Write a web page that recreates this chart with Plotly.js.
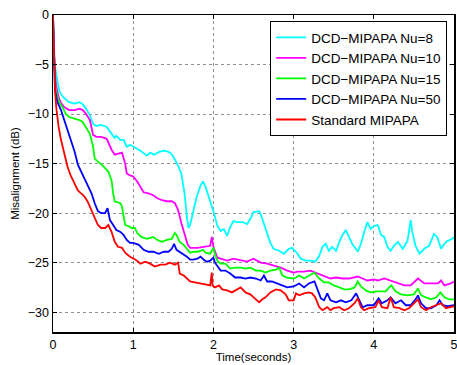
<!DOCTYPE html>
<html>
<head>
<meta charset="utf-8">
<script src="https://cdn.plot.ly/plotly-3.0.1.min.js"></script>
<style>html,body{margin:0;padding:0;background:#fff;}#chart{width:457px;height:365px;}</style>
</head>
<body>
<div id="chart"></div>
<script>
const seriesNames = ["DCD\u2212MIPAPA Nu=8","DCD\u2212MIPAPA Nu=10","DCD\u2212MIPAPA Nu=15","DCD\u2212MIPAPA Nu=50","Standard MIPAPA"];
const seriesColors = ["#00ffff","#ff00ff","#00ff00","#0000ff","#ff0000"];

const tCyan = [0,0.01,0.03,0.05,0.076,0.1,0.14,0.2,0.27,0.33,0.37,0.41,0.46,0.5,0.54,0.6,0.67,0.73,0.77,0.79,0.84,0.88,0.92,0.96,1.0,1.05,1.09,1.17,1.21,1.26,1.33,1.4,1.46,1.5,1.56,1.6,1.64,1.67,1.69,1.71,1.75,1.79,1.84,1.87,1.9,1.96,2.0,2.05,2.09,2.13,2.17,2.21,2.25,2.3,2.36,2.42,2.46,2.5,2.57,2.59,2.63,2.67,2.71,2.75,2.82,2.88,2.94,2.98,3.02,3.05,3.09,3.15,3.21,3.27,3.32,3.36,3.4,3.44,3.48,3.53,3.57,3.61,3.65,3.69,3.73,3.8,3.84,3.88,3.92,3.96,4.0,4.05,4.09,4.13,4.17,4.21,4.25,4.3,4.36,4.42,4.46,4.48,4.52,4.57,4.63,4.69,4.75,4.79,4.84,4.88,4.92,4.98,5.0];
const yCyan = [0,-3,-5.5,-6.6,-7.6,-8.0,-8.4,-8.8,-8.95,-8.8,-9.0,-9.45,-10.1,-11.0,-11.2,-11.1,-11.3,-12.0,-12.4,-12.2,-12.6,-12.6,-13.3,-13.1,-13.3,-13.5,-13.7,-14.2,-13.9,-14.1,-13.8,-13.7,-13.9,-14.3,-15.2,-16.0,-18.0,-20.4,-21.5,-21.2,-19.7,-18.4,-17.2,-16.8,-17.3,-18.7,-19.8,-21.3,-21.8,-21.6,-22.3,-21.4,-20.8,-20.9,-20.9,-21.1,-20.6,-19.9,-19.8,-20.1,-21.1,-22.1,-23.0,-23.6,-23.8,-24.1,-23.6,-23.5,-23.8,-24.1,-24.6,-24.8,-24.8,-24.9,-24.3,-23.4,-23.1,-23.8,-23.4,-23.8,-22.9,-22.2,-21.7,-22.4,-23.1,-23.9,-23.1,-21.9,-20.9,-21.6,-21.3,-21.2,-22.2,-22.4,-23.4,-23.8,-23.3,-22.9,-23.6,-22.8,-20.7,-21.9,-23.3,-24.1,-23.6,-23.3,-22.1,-22.4,-23.6,-23.1,-22.8,-22.6,-22.4];

const tMagenta = [0,0.01,0.03,0.05,0.076,0.1,0.14,0.2,0.27,0.33,0.37,0.41,0.46,0.5,0.54,0.6,0.67,0.73,0.77,0.81,0.86,0.9,0.92,0.96,1.0,1.05,1.09,1.13,1.19,1.25,1.3,1.36,1.42,1.48,1.52,1.56,1.6,1.65,1.68,1.71,1.8,1.88,1.96,1.98,2.0,2.05,2.09,2.17,2.25,2.34,2.42,2.5,2.59,2.67,2.75,2.84,2.92,3.0,3.05,3.13,3.21,3.3,3.38,3.46,3.53,3.61,3.69,3.8,3.86,3.92,4.0,4.05,4.13,4.21,4.3,4.38,4.46,4.55,4.63,4.71,4.8,4.84,4.88,4.96,5.0];
const yMagenta = [0,-3.5,-6.5,-7.6,-8.45,-8.9,-9.3,-9.6,-9.6,-9.45,-9.6,-9.95,-10.6,-12.1,-12.3,-12.3,-12.5,-13.6,-14.1,-14.0,-13.9,-15.0,-16.0,-16.2,-16.3,-16.8,-17.3,-17.9,-18.0,-18.2,-18.5,-18.7,-18.8,-18.8,-19.0,-19.7,-21.0,-22.4,-23.2,-23.5,-23.5,-23.4,-23.3,-22.4,-23.4,-24.5,-24.6,-24.8,-24.6,-24.8,-24.9,-24.6,-25.0,-25.1,-25.3,-25.5,-25.8,-26.0,-25.9,-25.9,-25.8,-26.1,-26.3,-26.6,-26.5,-26.6,-26.6,-26.4,-26.6,-26.8,-26.7,-26.8,-26.6,-26.8,-27.1,-27.3,-27.3,-26.6,-27.1,-27.1,-27.1,-26.8,-27.3,-27.1,-26.9];

const tGreen = [0,0.01,0.034,0.076,0.12,0.16,0.2,0.27,0.33,0.37,0.41,0.46,0.5,0.52,0.56,0.62,0.69,0.73,0.75,0.77,0.84,0.86,0.88,0.9,0.94,0.98,1.02,1.05,1.1,1.17,1.25,1.3,1.36,1.42,1.48,1.52,1.54,1.58,1.63,1.67,1.71,1.75,1.8,1.87,1.9,1.96,2.0,2.02,2.05,2.09,2.15,2.21,2.27,2.34,2.4,2.46,2.53,2.59,2.65,2.71,2.78,2.82,2.86,2.92,3.0,3.03,3.07,3.13,3.19,3.26,3.32,3.38,3.44,3.5,3.57,3.63,3.69,3.76,3.8,3.84,3.9,3.96,4.03,4.09,4.15,4.19,4.22,4.27,4.34,4.42,4.5,4.55,4.59,4.65,4.71,4.78,4.83,4.88,4.94,5.0];
const yGreen = [0,-4,-7.6,-8.8,-9.3,-10.0,-10.3,-10.5,-10.6,-10.8,-11.3,-12.0,-13.3,-14.5,-14.8,-15.2,-15.8,-16.7,-18.0,-18.8,-19.0,-19.3,-20.3,-21.2,-21.3,-21.5,-21.5,-22.0,-22.4,-22.6,-22.4,-22.7,-22.9,-22.7,-22.6,-22.0,-22.2,-22.9,-23.2,-23.6,-24.0,-23.9,-23.9,-23.7,-24.0,-24.1,-23.5,-24.2,-24.8,-25.1,-25.1,-25.6,-25.5,-25.5,-25.6,-25.5,-25.8,-25.8,-26.0,-25.8,-25.7,-25.5,-26.3,-26.5,-26.6,-26.5,-26.3,-26.6,-26.3,-26.0,-26.6,-27.0,-27.0,-27.3,-27.5,-27.7,-27.7,-27.5,-26.9,-27.4,-27.8,-28.0,-27.9,-27.9,-27.9,-27.5,-27.3,-27.9,-28.2,-28.3,-28.2,-27.6,-28.3,-28.5,-28.7,-28.5,-28.0,-28.5,-28.7,-28.7];

const tBlue = [0,0.01,0.025,0.055,0.1,0.14,0.18,0.22,0.27,0.31,0.35,0.39,0.43,0.48,0.52,0.56,0.6,0.65,0.68,0.71,0.75,0.79,0.84,0.88,0.92,0.96,1.0,1.07,1.13,1.19,1.25,1.32,1.38,1.44,1.48,1.51,1.54,1.58,1.63,1.67,1.71,1.75,1.8,1.84,1.88,1.92,1.96,2.0,2.02,2.05,2.09,2.15,2.21,2.27,2.34,2.4,2.46,2.53,2.59,2.63,2.67,2.73,2.8,2.86,2.92,3.0,3.03,3.07,3.13,3.19,3.26,3.3,3.34,3.38,3.42,3.46,3.53,3.59,3.65,3.72,3.78,3.82,3.86,3.92,3.98,4.0,4.06,4.1,4.17,4.21,4.27,4.34,4.4,4.46,4.53,4.55,4.59,4.65,4.71,4.78,4.82,4.86,4.92,4.98,5.0];
const yBlue = [0,-4,-7.6,-8.8,-9.6,-10.6,-11.6,-12.6,-13.8,-15.1,-15.8,-16.5,-17.2,-18.0,-19.0,-19.8,-20.0,-20.0,-19.5,-20.7,-21.2,-21.7,-21.9,-22.2,-22.7,-23.0,-23.0,-23.2,-23.7,-23.9,-23.9,-24.1,-23.9,-23.9,-23.6,-23.1,-23.7,-23.9,-24.2,-24.4,-24.7,-24.7,-24.6,-24.4,-24.7,-24.9,-24.8,-24.5,-25.0,-25.3,-25.8,-25.8,-26.1,-26.5,-26.5,-26.6,-26.5,-26.6,-26.8,-26.3,-26.9,-26.9,-27.1,-27.3,-27.5,-27.4,-27.3,-27.1,-27.5,-27.1,-26.9,-27.8,-28.6,-28.8,-28.1,-28.8,-29.0,-28.8,-29.0,-28.8,-28.1,-28.8,-29.5,-29.3,-29.3,-29.3,-28.6,-29.1,-28.8,-28.5,-29.1,-28.8,-29.3,-29.3,-28.6,-28.3,-29.1,-29.6,-29.6,-29.3,-28.8,-29.3,-29.4,-29.3,-29.3];

const tRed = [0,0.01,0.025,0.04,0.07,0.1,0.14,0.18,0.22,0.27,0.31,0.35,0.39,0.43,0.48,0.52,0.56,0.6,0.65,0.69,0.73,0.77,0.81,0.86,0.9,0.96,1.0,1.03,1.09,1.15,1.21,1.27,1.34,1.4,1.46,1.52,1.56,1.58,1.63,1.67,1.71,1.77,1.84,1.9,1.96,1.98,1.99,2.02,2.07,2.11,2.17,2.23,2.3,2.34,2.4,2.46,2.53,2.57,2.61,2.65,2.71,2.78,2.84,2.9,2.94,3.0,3.03,3.07,3.13,3.19,3.23,3.27,3.32,3.36,3.42,3.46,3.5,3.57,3.63,3.69,3.76,3.8,3.84,3.88,3.94,4.02,4.06,4.1,4.17,4.21,4.25,4.32,4.38,4.44,4.5,4.55,4.59,4.65,4.71,4.78,4.84,4.9,4.96,5.0];
const yRed = [0,-4,-7.6,-9.3,-11.3,-12.6,-14.1,-15.3,-16.2,-17.0,-17.7,-18.0,-18.3,-18.8,-19.7,-20.3,-21.2,-21.5,-21.5,-21.2,-21.9,-22.9,-23.4,-23.5,-24.0,-24.4,-24.6,-24.7,-25.1,-24.9,-25.1,-25.4,-25.2,-25.2,-25.0,-25.2,-25.0,-26.1,-26.3,-26.6,-26.9,-27.0,-27.1,-27.2,-27.3,-26.0,-27.3,-27.5,-27.3,-27.7,-27.8,-28.0,-27.7,-27.5,-28.0,-28.2,-28.7,-29.0,-28.7,-28.5,-28.0,-27.7,-27.8,-28.2,-28.8,-28.8,-28.1,-28.3,-28.1,-28.0,-28.1,-28.5,-29.5,-29.8,-29.5,-29.8,-29.6,-29.5,-29.8,-29.6,-29.1,-28.6,-29.5,-29.8,-29.6,-29.5,-28.8,-29.5,-29.6,-28.5,-29.5,-29.6,-29.8,-29.6,-29.1,-28.7,-29.5,-29.8,-29.5,-29.3,-29.1,-29.6,-29.5,-29.4];

const xTicks = [0,1,2,3,4,5];
const yTicks = [0,-5,-10,-15,-20,-25,-30];

const tArr = [tCyan,tMagenta,tGreen,tBlue,tRed];
const yArr = [yCyan,yMagenta,yGreen,yBlue,yRed];

const data = seriesNames.map((n,i)=>({
  x: tArr[i], y: yArr[i], type:'scatter', mode:'lines', name:n,
  line:{color:seriesColors[i], width:1.8}
}));

const FONT = 'Liberation Sans, Arial, Helvetica, sans-serif';
const axisCommon = {
  showline:true, linecolor:'#000', linewidth:1.5, mirror:'ticks',
  ticks:'inside', ticklen:4, tickcolor:'#000', tickwidth:1,
  showgrid:true, gridcolor:'#444', griddash:'dot', gridwidth:0.6,
  zeroline:false, ticklabeloverflow:'allow',
  tickfont:{family:FONT, size:12.5, color:'#000'}
};

const layout = {
  width:457, height:365,
  margin:{l:53, r:3, t:15, b:33},
  paper_bgcolor:'#fff', plot_bgcolor:'#fff',
  showlegend:true,
  legend:{x:0.983, y:0.981, xanchor:'right', yanchor:'top',
    bgcolor:'#fff', bordercolor:'#000', borderwidth:1,
    font:{family:FONT, size:13.5, color:'#000'},
    tracegroupgap:0, itemwidth:30},
  xaxis:Object.assign({}, axisCommon, {range:[0,5], tickvals:xTicks,
    title:{text:'Time(seconds)', font:{family:FONT, size:11.5, color:'#000'}, standoff:2}}),
  yaxis:Object.assign({}, axisCommon, {range:[-32,0], tickvals:yTicks,
    title:{text:'Misalignment (dB)', font:{family:FONT, size:11.5, color:'#000'}, standoff:6}})
};

Plotly.newPlot('chart', data, layout, {displayModeBar:false, staticPlot:true});
</script>
</body>
</html>
